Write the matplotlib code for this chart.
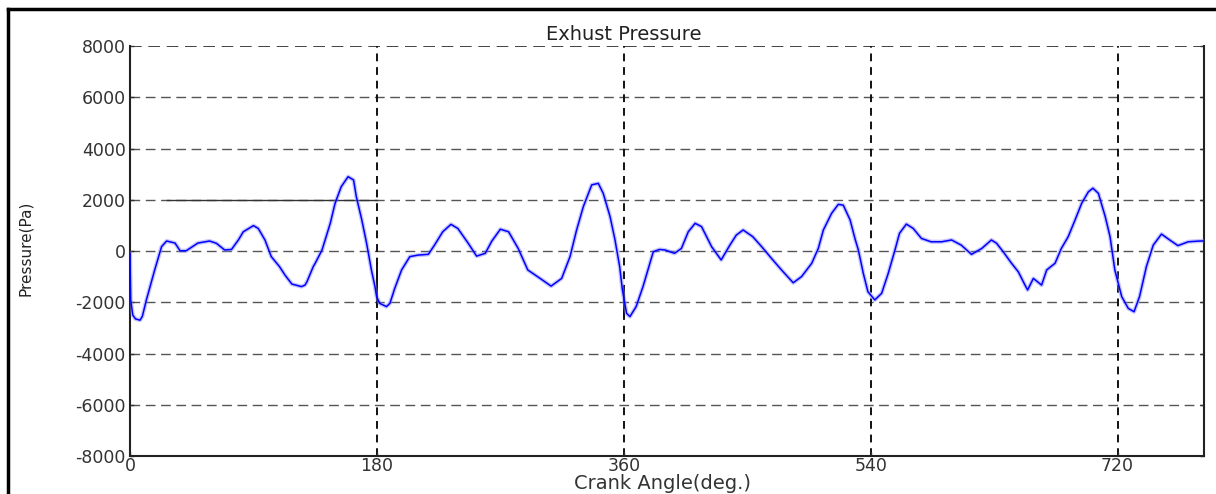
import matplotlib
matplotlib.use("Agg")
import matplotlib.pyplot as plt
from matplotlib.lines import Line2D

plt.rcParams["axes.unicode_minus"] = False

# exhaust pressure trace over two crank revolutions
angle = [0, 0.5, 2, 4, 7.3, 9, 12, 18, 23, 26.7, 32.8, 36.5, 41, 49.5, 58, 63,
         69, 74, 79, 82.6, 90, 93.5, 98.4, 103, 109, 113, 118, 125, 127.6, 129,
         133.6, 135, 140, 146, 149.5, 154, 159, 163, 165, 169, 172.5, 176,
         178.6, 179.8, 182, 187, 189.5, 193, 198, 204, 210, 217.5, 222, 228,
         234, 239, 246.6, 252.7, 259, 263.7, 270, 276, 283, 290, 299, 307,
         314.7, 320.8, 325.6, 330.5, 336.6, 341.4, 345, 350, 353.6, 357, 359,
         362, 364.5, 369, 374, 379, 381.5, 386, 390, 397, 402, 407, 412, 416.7,
         424, 431, 437, 442, 447, 454, 460.5, 467.7, 475, 483.5, 489.6, 497,
         501.8, 505.5, 511.5, 516.4, 520, 525, 528.5, 531, 534.6, 538, 543,
         548, 552.8, 557.7, 561, 566, 571, 577, 584, 591.7, 599, 606, 613.5,
         621, 628, 631.8, 636.6, 642.7, 647.6, 652.5, 654.4, 658.6, 664.6,
         668.3, 674.4, 679, 684, 689, 693.8, 698.7, 702, 706, 711, 714.5, 718,
         723, 727.8, 732, 736, 741, 746, 752, 758, 764, 771.5, 780, 783]
pressure = [-100, -1900, -2500, -2650, -2700, -2550, -1900, -740, 170, 390, 310,
            10, 10, 310, 390, 300, 40, 60, 430, 750, 990, 880, 430, -220, -610,
            -940, -1290, -1390, -1330, -1200, -610, -480, 40, 1080, 1860, 2510,
            2900, 2770, 2120, 1210, 300, -740, -1390, -1780, -2040, -2170,
            -2040, -1460, -740, -220, -160, -130, 230, 750, 1040, 880, 300,
            -200, -90, 380, 850, 750, 100, -740, -1070, -1370, -1070, -220,
            820, 1730, 2580, 2640, 2250, 1340, 430, -610, -1520, -2430, -2560,
            -2170, -1390, -480, -30, 60, 40, -90, 100, 750, 1080, 950, 170,
            -350, 200, 620, 820, 560, 170, -290, -740, -1240, -1000, -480, 100,
            820, 1470, 1820, 1790, 1210, 490, 40, -870, -1590, -1910, -1650,
            -870, 40, 690, 1050, 880, 490, 360, 360, 430, 230, -130, 100, 430,
            300, -30, -480, -810, -1330, -1520, -1070, -1330, -740, -480, 100,
            560, 1210, 1860, 2310, 2450, 2250, 1340, 560, -740, -1780, -2240,
            -2370, -1780, -610, 230, 660, 430, 210, 360, 390, 390]

# short solid segments left on the plot
ref_x = [27, 180]
ref_y = [2000, 2000]
bar180_y = [-470, -2180]
bar360_y = [-1590, -2560]

xticks = [0, 180, 360, 540, 720]
yticks = [-8000, -6000, -4000, -2000, 0, 2000, 4000, 6000, 8000]

fig = plt.figure(figsize=(12.16, 4.94), dpi=100)
ax = fig.add_axes([130 / 1216, 1 - 456 / 494, (1204 - 130) / 1216, (456 - 46) / 494])

# outer frame (left and top edges)
fig.add_artist(Line2D([8 / 1216, 8 / 1216], [0, 1 - 9 / 494], color="black", lw=2.5,
                      transform=fig.transFigure))
fig.add_artist(Line2D([8 / 1216, 1], [1 - 9 / 494, 1 - 9 / 494], color="black", lw=2.5,
                      transform=fig.transFigure))

for yv in yticks[1:-1]:
    ax.axhline(yv, color="#555555", lw=1.0, dashes=(7, 4), zorder=1)
ax.axhline(8000, color="#222222", lw=1.2, dashes=(7, 4), zorder=1)
for xv in xticks[1:]:
    ax.axvline(xv, color="#111111", lw=1.4, dashes=(4, 3), zorder=1)

ax.plot(ref_x, ref_y, color="#333333", lw=1.0, zorder=2)
ax.plot([180, 180], bar180_y, color="#111111", lw=1.4, zorder=2)
ax.plot([360, 360], bar360_y, color="#111111", lw=1.4, zorder=2)

ax.plot(angle, pressure, color="#8080ff", lw=3.0, alpha=0.45, zorder=3)
ax.plot(angle, pressure, color="#0000ff", lw=1.1, zorder=4)

ax.set_xlim(0, 783)
ax.set_ylim(-8000, 8000)
ax.set_xticks(xticks)
ax.set_yticks(yticks)
ax.tick_params(direction="in", length=3, width=1, labelsize=12.5, colors="#333333",
               right=True, pad=3)
ax.tick_params(axis="x", pad=1)
ax.spines["top"].set_visible(False)
for s in ["left", "right", "bottom"]:
    ax.spines[s].set_linewidth(1.5)
    ax.spines[s].set_color("#222222")

ax.set_title("Exhust Pressure", fontsize=14, color="#222222", pad=4,
             x=(624 - 130) / 1074)
fig.text(663 / 1216, 1.5 / 494, "Crank Angle(deg.)", ha="center", va="bottom",
         fontsize=14, color="#333333")
fig.text(26 / 1216, 1 - 248 / 494, "Pressure(Pa)", rotation=90, ha="center", va="center",
         fontsize=11, color="#222222")

fig.savefig("out.png", dpi=100)
